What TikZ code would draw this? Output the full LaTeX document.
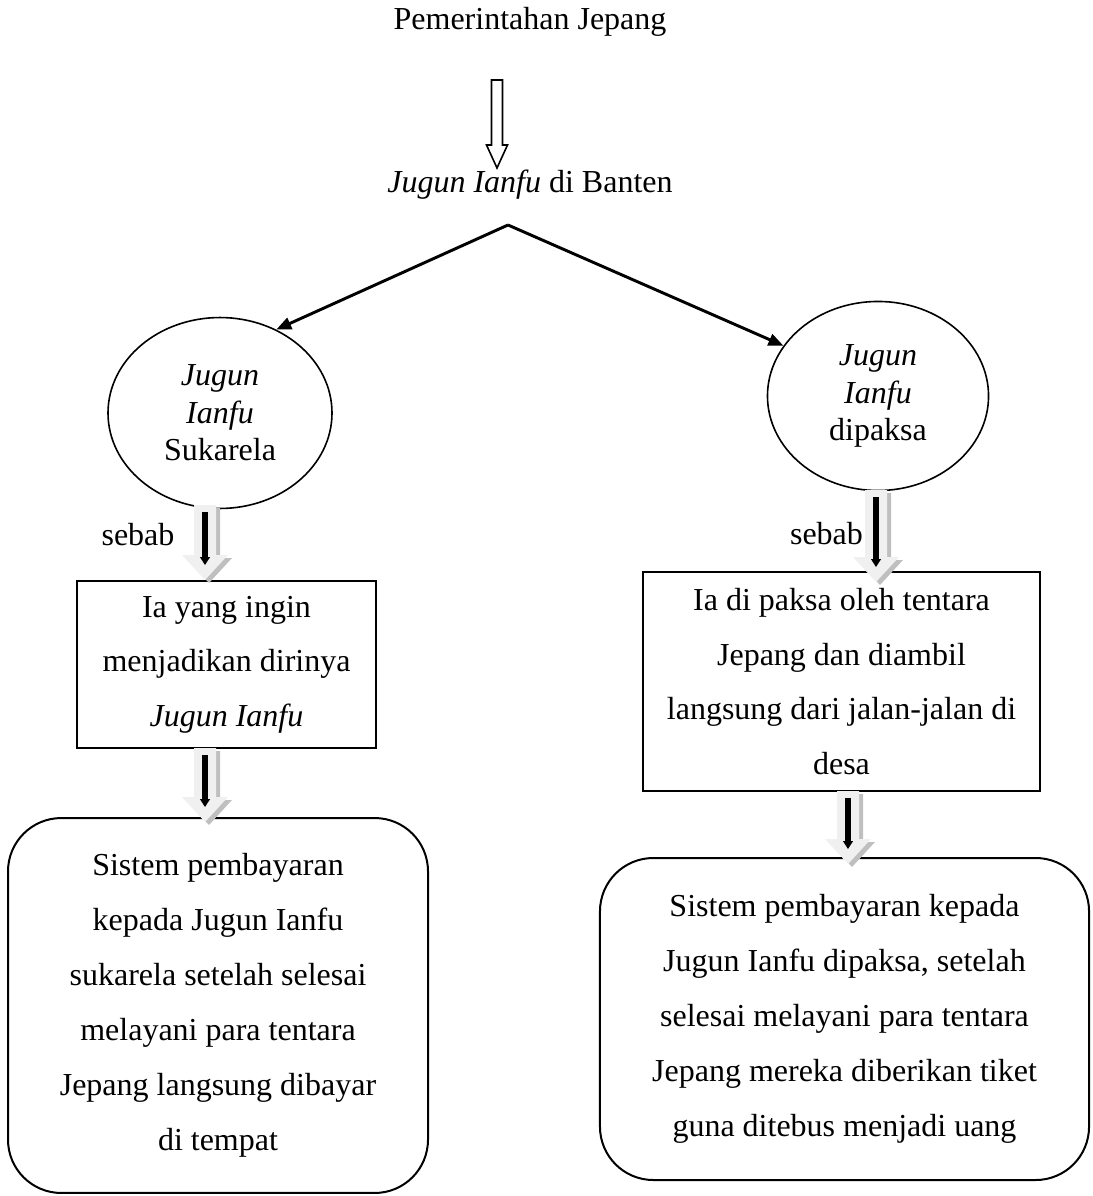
\documentclass[tikz,border=0pt]{standalone}
\usepackage{fontspec}
\setmainfont{Liberation Serif}
\usetikzlibrary{shapes.geometric,arrows.meta}

\tikzset{
  teks/.style={font=\fontsize{12}{14.4}\selectfont, inner sep=0pt},
  lingkaran/.style={ellipse, draw, line width=0.6pt, inner sep=0pt, align=center, font=\fontsize{12}{14.1}\selectfont},
  kotak/.style={rectangle, draw, line width=0.75pt, inner sep=0pt, align=center, font=\fontsize{12}{20.4}\selectfont},
  kotakbulat/.style={kotak, rounded corners=20pt, font=\fontsize{12}{20.6}\selectfont},
  hitam/.style={line width=1.9pt, -{Triangle[width=3.6pt,length=3pt]}, shorten <=2.6pt, shorten >=5.6pt},
  cabang/.style={line width=1.1pt, -{Triangle[width=4.5pt,length=5.6pt]}},
  pics/blok/.style={code={
    \fill[gray!50, shift={(4,3)}] (-11,0) -- (11,0) -- (11,#1-25) -- (23,#1-25) -- (0,#1) -- (-23,#1-25) -- (-11,#1-25) -- cycle;
    \fill[gray!12] (-11,0) -- (11,0) -- (11,#1-25) -- (23,#1-25) -- (0,#1) -- (-23,#1-25) -- (-11,#1-25) -- cycle;
  }}
}

\begin{document}
\begin{tikzpicture}[x=0.375pt, y=-0.375pt]
  \useasboundingbox (0,0) rectangle (1092,1196);

  \node[teks, anchor=base] (judul) at (530,30) {Pemerintahan Jepang};
  \coordinate (panahatas) at (497,80);
  \draw[line width=0.6pt, fill=white] (panahatas) ++(-5.5,0) -- ++(11,0) -- ++(0,65) -- ++(5,0)
    -- ++(-10.5,23) -- ++(-10.5,-23) -- ++(5,0) -- cycle;
  \node[teks, anchor=base] (banten) at (530,193) {\textit{Jugun Ianfu} di Banten};
  \coordinate (pisah) at (508,225);

  % lingkaran
  \node[lingkaran, minimum width=84pt, minimum height=71.6pt] (sukarela) at (220,413) {\textit{Jugun}\\\textit{Ianfu}\\Sukarela};
  \node[lingkaran, minimum width=82.9pt, minimum height=70.9pt] (dipaksa) at (878,396) {\textit{Jugun}\\\textit{Ianfu}\\dipaksa};
  \draw[cabang] (pisah) -- (sukarela.56);
  \draw[cabang] (pisah) -- (dipaksa.152);

  % kotak alasan
  \node[kotak, minimum width=112.1pt, minimum height=62.6pt] (alasankiri) at (226.5,664.5)
    {Ia yang ingin\\menjadikan dirinya\\\textit{Jugun Ianfu}};
  \node[kotak, minimum width=148.9pt, minimum height=82.1pt] (alasankanan) at (841.5,681.5)
    {Ia di paksa oleh tentara\\Jepang dan diambil\\langsung dari jalan-jalan di\\desa};

  % kotak pembayaran
  \node[kotakbulat, minimum width=157.5pt, minimum height=140.6pt] (bayarkiri) at (218,1005.5)
    {Sistem pembayaran\\kepada Jugun Ianfu\\sukarela setelah selesai\\melayani para tentara\\Jepang langsung dibayar\\di tempat};
  \node[kotakbulat, minimum width=183.4pt, minimum height=120.75pt] (bayarkanan) at (844.5,1019)
    {Sistem pembayaran kepada\\Jugun Ianfu dipaksa, setelah\\selesai melayani para tentara\\Jepang mereka diberikan tiket\\guna ditebus menjadi uang};

  % panah blok
  \coordinate (b1a) at (205,505);  \coordinate (b1b) at (205,580);
  \coordinate (b2a) at (205,748);  \coordinate (b2b) at (205,822);
  \coordinate (b3a) at (876,490);  \coordinate (b3b) at (876,582);
  \coordinate (b4a) at (848,791);  \coordinate (b4b) at (848,864);
  \pic at (b1a) {blok=75};
  \pic at (b2a) {blok=74};
  \pic at (b3a) {blok=92};
  \pic at (b4a) {blok=73};
  \foreach \b in {b1,b2,b3,b4}
    \draw[hitam] (\b a) -- (\b b);

  \node[teks, anchor=base] (sebabkiri) at (138,545) {sebab};
  \node[teks, anchor=base] (sebabkanan) at (826.5,544) {sebab};
\end{tikzpicture}
\end{document}
